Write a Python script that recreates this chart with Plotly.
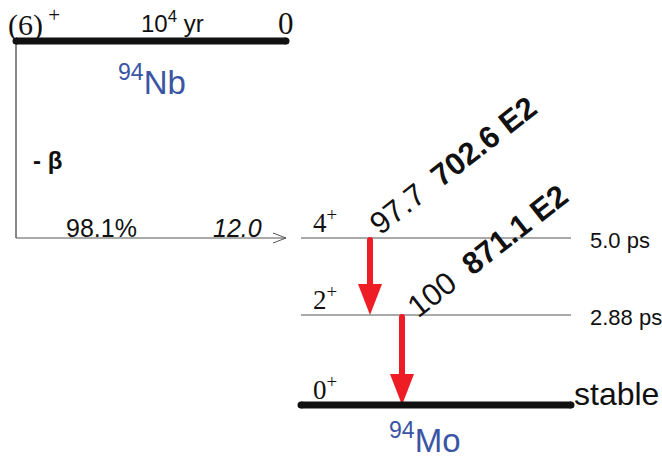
import plotly.graph_objects as go

# ---- decay data: 94Nb (beta-) -> 94Mo ----
parent_name = "94Nb"
parent_spin = "(6)<sup> +</sup>"
parent_halflife = "10<sup>4</sup> yr"
parent_energy = "0"
daughter_name = "94Mo"

beta_branch = "98.1%"
beta_logft = "12.0"

level_spins = ["4", "2", "0"]
level_halflives = ["5.0 ps", "2.88 ps", "stable"]

gamma_intensities = ["97.7", "100"]
gamma_energies = ["702.6", "871.1"]
gamma_multipolarities = ["E2", "E2"]

# ---- drawing geometry (pixel space, y down) ----
W, H = 662, 459
level_y = [238, 315, 405]
level_x0, level_x1 = 301, 571
parent_y = 41
parent_x0, parent_x1 = 16, 286
gamma_x = [370, 402]

BLACK = "#111111"
GRAY = "#555555"
RED = "#ee1c25"
BLUE = "#3a55a4"
SANS = "Liberation Sans, Arial, sans-serif"
SERIF = "Liberation Serif, Times New Roman, serif"

fig = go.Figure()
shapes = []
ann = []

def line(x0, y0, x1, y1, color, width):
    shapes.append(dict(type="line", x0=x0, y0=y0, x1=x1, y1=y1,
                       xref="x", yref="y", line=dict(color=color, width=width)))

def text(x, y, s, size, color=BLACK, family=SANS, xanchor="center", yanchor="middle", angle=0):
    ann.append(dict(x=x, y=y, text=s, showarrow=False, xref="x", yref="y",
                    xanchor=xanchor, yanchor=yanchor, textangle=angle,
                    font=dict(size=size, color=color, family=family)))

# parent level
line(parent_x0, parent_y, parent_x1, parent_y, BLACK, 7)
for xe in (parent_x0, parent_x1):
    shapes.append(dict(type="circle", x0=xe - 3.5, x1=xe + 3.5, y0=parent_y - 3.5, y1=parent_y + 3.5,
                       xref="x", yref="y", fillcolor=BLACK, line=dict(width=0)))
text(6, 22, parent_spin, 30, family=SERIF, xanchor="left")
text(172, 22, parent_halflife, 24)
text(286, 23, parent_energy, 31, family=SERIF)
text(152, 80, "<sup>94</sup>Nb", 33, color=BLUE)

# beta feeding line
line(16, parent_y, 16, level_y[0], BLACK, 1)
line(16, level_y[0], 286, level_y[0], GRAY, 1)
line(273, level_y[0] - 5, 286, level_y[0], GRAY, 1)
line(273, level_y[0] + 5, 286, level_y[0], GRAY, 1)
text(47, 160, "<b>- β</b>", 24)
text(101, 228, beta_branch, 25)
text(237, 228, "<i>" + beta_logft + "</i>", 25)

# daughter levels
for i, (spin, hl, y) in enumerate(zip(level_spins, level_halflives, level_y)):
    if i == len(level_y) - 1:
        line(level_x0, y, level_x1, y, BLACK, 7)
        for xe in (level_x0, level_x1):
            shapes.append(dict(type="circle", x0=xe - 3.5, x1=xe + 3.5, y0=y - 3.5, y1=y + 3.5,
                               xref="x", yref="y", fillcolor=BLACK, line=dict(width=0)))
        text(572, y - 11, hl, 32, xanchor="left")
    else:
        line(level_x0, y, level_x1, y, GRAY, 1)
        text(588, y + 2, hl, 22, xanchor="left")
    text(311, y - 17, spin + "<sup>+</sup>", 27, family=SERIF, xanchor="left")
text(425, 438, "<sup>94</sup>Mo", 33, color=BLUE)

# gamma transitions (red arrows)
head_h, head_w = 31, 24
for i, gx in enumerate(gamma_x):
    y_top, y_bot = level_y[i], level_y[i + 1]
    line(gx, y_top + 2, gx, y_bot - head_h + 2, RED, 6)
    shapes.append(dict(type="circle", x0=gx - 3, x1=gx + 3, y0=y_top - 1, y1=y_top + 5,
                       xref="x", yref="y", fillcolor=RED, line=dict(width=0)))
    fig.add_trace(go.Scatter(
        x=[gx - head_w / 2, gx + head_w / 2, gx, gx - head_w / 2],
        y=[y_bot - head_h, y_bot - head_h, y_bot, y_bot - head_h],
        mode="lines", fill="toself", fillcolor=RED, line=dict(color=RED, width=0),
        hoverinfo="skip", showlegend=False))

# rotated gamma labels
label_pos = [(453, 165), (487, 251)]
for (cx, cy), inten, en, mp in zip(label_pos, gamma_intensities, gamma_energies, gamma_multipolarities):
    text(cx, cy, inten + "&nbsp;&nbsp;<b>" + en + " " + mp + "</b>", 31, angle=-38)

fig.update_layout(
    width=W, height=H, margin=dict(l=0, r=0, t=0, b=0),
    paper_bgcolor="white", plot_bgcolor="white",
    xaxis=dict(range=[0, W], visible=False, fixedrange=True),
    yaxis=dict(range=[H, 0], visible=False, fixedrange=True),
    shapes=shapes, annotations=ann, showlegend=False,
)
fig.write_html("out.html")
